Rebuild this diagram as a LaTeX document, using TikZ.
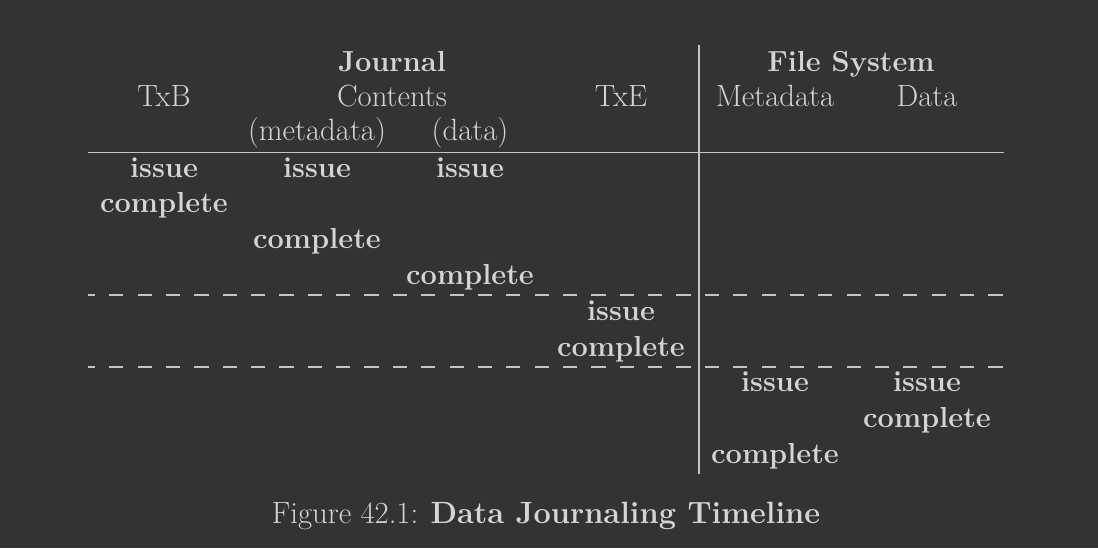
\documentclass[tikz,border=0pt]{standalone}
\usepackage{tikz}
\usetikzlibrary{positioning}
\definecolor{bgdark}{HTML}{333333}
\definecolor{inkgray}{HTML}{D4D4D4}
\definecolor{rulegray}{HTML}{C4C4C4}

\begin{document}
\begin{tikzpicture}[x=0.02cm,y=-0.02cm,
	every node/.style={text=inkgray,inner sep=0pt,anchor=base},
	head/.style={font=\fontsize{17.5}{21}\selectfont},
	group/.style={font=\fontsize{16.5}{20}\selectfont\bfseries},
	event/.style={font=\fontsize{16.5}{20}\selectfont\bfseries},
	rule/.style={draw=rulegray,line width=0.7pt},
	tick/.style={rule,dash pattern=on 8.07pt off 8.07pt,dash phase=4.03pt}]
	
	\fill[bgdark] (0,0) rectangle (1098,548);
	
	\node[group](journal) at (392,71){Journal};
	\node[group](fs) at (851,71){File System};
	\node[head](txb) at (164,106){TxB};
	\node[head](contents) at (392,106){Contents};
	\node[head](txe) at (621,106){TxE};
	\node[head](fsmeta) at (775,106){Metadata};
	\node[head](fsdata) at (927,106){Data};
	\node[head](jmeta) at (317,140){(metadata)};
	\node[head](jdata) at (470,140){(data)};
	
	\node[event](txb_issue) at (164,177){issue};
	\node[event](jmeta_issue) at (317,177){issue};
	\node[event](jdata_issue) at (470,177){issue};
	\node[event](txb_done) at (164,212.8){complete};
	\node[event](jmeta_done) at (317,248.6){complete};
	\node[event](jdata_done) at (470,284.4){complete};
	\node[event](txe_issue) at (621,320.2){issue};
	\node[event](txe_done) at (621,356){complete};
	\node[event](fsmeta_issue) at (775,391.8){issue};
	\node[event](fsdata_issue) at (927,391.8){issue};
	\node[event](fsdata_done) at (927,427.6){complete};
	\node[event](fsmeta_done) at (775,463.4){complete};
	
	\coordinate(top_l) at (88,152.3);
	\coordinate(top_r) at (1004,152.3);
	\coordinate(mid_l) at (88,295);
	\coordinate(mid_r) at (1004,295);
	\coordinate(low_l) at (88,367);
	\coordinate(low_r) at (1004,367);
	\coordinate(split_t) at (699,45);
	\coordinate(split_b) at (699,474);
	
	\draw[rule](top_l) -- (top_r);
	\draw[tick](mid_l) -- (mid_r);
	\draw[tick](low_l) -- (low_r);
	\draw[rule](split_t) -- (split_b);
	
	\node[head](caption) at (546,523){Figure 42.1: \textbf{Data Journaling Timeline}};
\end{tikzpicture}
\end{document}
